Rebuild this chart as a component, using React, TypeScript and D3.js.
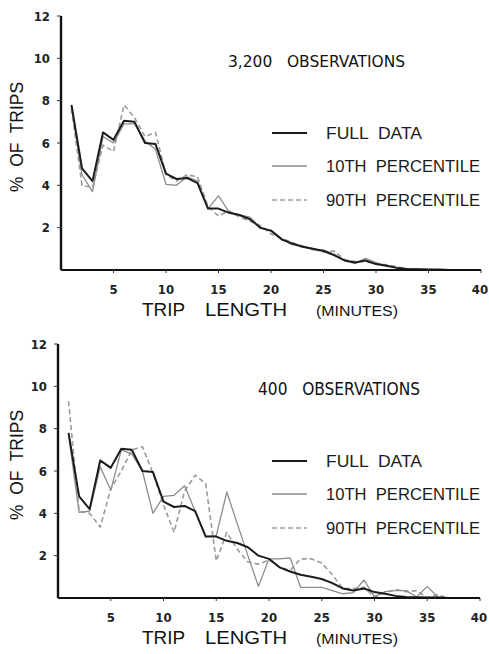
import React from "react";
import * as d3 from "d3";

// minutes along the x axis
const MINUTES = [1, 2, 3, 4, 5, 6, 7, 8, 9, 10, 11, 12, 13, 14, 15, 16, 17, 18, 19, 20, 21, 22, 23, 24, 25, 26, 27, 28, 29, 30, 31, 32, 33, 34, 35, 36, 37];

// % of trips, full data (same curve in both panels)
const FULL_DATA = [7.8, 4.8, 4.2, 6.5, 6.15, 7.05, 7.0, 6.0, 5.95, 4.55, 4.3, 4.35, 4.1, 2.9, 2.9, 2.7, 2.6, 2.4, 2.0, 1.85, 1.45, 1.25, 1.1, 1.0, 0.9, 0.7, 0.45, 0.35, 0.45, 0.28, 0.2, 0.1, 0.05, 0.03, 0.02, 0.02, 0.0];

// 3,200 observations
const TOP_P10 = [7.7, 4.5, 3.7, 6.3, 6.0, 6.9, 6.9, 6.1, 5.7, 4.05, 4.0, 4.4, 4.2, 2.9, 3.5, 2.75, 2.6, 2.5, 1.95, 1.9, 1.5, 1.2, 1.15, 0.95, 0.95, 0.75, 0.45, 0.3, 0.55, 0.35, 0.2, 0.1, 0.05, 0.03, 0.02, 0.0, 0.0];
const TOP_P90 = [7.6, 4.0, 3.9, 5.9, 5.6, 7.8, 7.2, 6.3, 6.5, 4.5, 4.2, 4.5, 4.4, 3.0, 2.55, 2.8, 2.5, 2.3, 2.1, 1.7, 1.5, 1.3, 1.1, 1.0, 0.85, 0.9, 0.5, 0.4, 0.4, 0.3, 0.25, 0.15, 0.05, 0.05, 0.02, 0.0, 0.0];

// 400 observations
const BOTTOM_P10 = [7.7, 4.05, 4.1, 6.2, 5.1, 7.0, 6.8, 6.0, 4.0, 4.8, 4.85, 5.3, 4.1, 2.9, 2.95, 5.0, 3.5, 2.0, 0.55, 1.85, 1.85, 1.9, 0.5, 0.5, 0.5, 0.35, 0.2, 0.25, 0.85, 0.05, 0.3, 0.35, 0.35, 0.05, 0.55, 0.05, 0.0];
const BOTTOM_P90 = [9.3, 4.1, 4.0, 3.35, 5.15, 6.0, 7.0, 7.15, 5.9, 4.4, 3.1, 5.05, 5.8, 5.4, 1.75, 3.1, 2.3, 1.7, 1.6, 1.8, 1.45, 1.3, 1.85, 1.85, 1.65, 1.1, 0.45, 0.45, 0.5, 0.05, 0.25, 0.4, 0.3, 0.35, 0.0, 0.15, 0.0];

const X_TICKS = [5, 10, 15, 20, 25, 30, 35, 40];
const Y_TICKS = [2, 4, 6, 8, 10, 12];
const LEGEND_LABELS = ["FULL  DATA", "10TH  PERCENTILE", "90TH  PERCENTILE"];

const FONT = "'Liberation Sans', Arial, sans-serif";
const NARROW = "'Liberation Sans Narrow', 'DejaVu Sans Condensed', sans-serif";

const STYLES = [
  { stroke: "#1c1c1c", width: 2, dash: undefined },
  { stroke: "#8c8c8c", width: 1.3, dash: undefined },
  { stroke: "#9c9c9c", width: 1.6, dash: "5,3" },
];

type PanelProps = {
  dy: number;
  x0: number;
  x1: number;
  title: string;
  titleX: number;
  titleW: number;
  titleSize: number;
  series: number[][];
};

const pre = { whiteSpace: "pre" as const };

const Panel = ({ dy, x0, x1, title, titleX, titleW, titleSize, series }: PanelProps) => {
  const x = d3.scaleLinear().domain([0, 40]).range([x0, x1]);
  const y = d3.scaleLinear().domain([0, 12]).range([dy + 270, dy + 16]);
  const line = d3
    .line<number>()
    .x((_, i) => x(MINUTES[i]))
    .y((d) => y(d));

  const legendRows = [dy + 139, dy + 172, dy + 206];

  return (
    <g>
      {/* data lines, lightest first so full data sits on top */}
      {[2, 1, 0].map((k) => (
        <path
          key={k}
          d={line(series[k]) || ""}
          fill="none"
          stroke={STYLES[k].stroke}
          strokeWidth={STYLES[k].width}
          strokeDasharray={STYLES[k].dash}
          strokeLinejoin="round"
        />
      ))}

      {/* axes */}
      <line x1={x(0)} x2={x(0)} y1={y(0)} y2={y(12)} stroke="#111" strokeWidth={2.4} />
      <line x1={x(0)} x2={x(40)} y1={y(0)} y2={y(0)} stroke="#111" strokeWidth={2.2} />

      {Y_TICKS.map((t) => (
        <g key={t}>
          <line x1={x(0) - 4} x2={x(0)} y1={y(t)} y2={y(t)} stroke="#333" strokeWidth={1} />
          <text
            x={x(0) - 11}
            y={y(t)}
            dy="0.35em"
            textAnchor="end"
            fontFamily={NARROW}
            fontWeight="bold"
            fontSize={13}
            fill="#222"
          >
            {t}
          </text>
        </g>
      ))}

      {X_TICKS.map((t) => (
        <g key={t}>
          <line x1={x(t)} x2={x(t)} y1={y(0)} y2={y(0) + 3} stroke="#333" strokeWidth={1} />
          <text
            x={t === 40 ? x(t) - 1 : x(t)}
            y={y(0) + 24}
            textAnchor="middle"
            fontFamily={NARROW}
            fontWeight="bold"
            fontSize={13}
            fill="#222"
          >
            {t}
          </text>
        </g>
      ))}

      {/* axis titles */}
      <text x={142} y={dy + 316} fontFamily={FONT} fontSize={19} fill="#111" textLength={43} lengthAdjust="spacingAndGlyphs">
        TRIP
      </text>
      <text x={205} y={dy + 316} fontFamily={FONT} fontSize={19} fill="#111" textLength={82} lengthAdjust="spacingAndGlyphs">
        LENGTH
      </text>
      <text x={316} y={dy + 316} fontFamily={FONT} fontSize={14} fill="#111" textLength={82} lengthAdjust="spacingAndGlyphs">
        (MINUTES)
      </text>
      <text
        transform={`translate(23,${dy + 137}) rotate(-90)`}
        textAnchor="middle"
        fontFamily={FONT}
        fontSize={18}
        fill="#111"
        textLength={110}
        lengthAdjust="spacingAndGlyphs"
        style={pre}
      >
        %  OF  TRIPS
      </text>

      {/* panel title */}
      <text
        x={titleX}
        y={dy + 67}
        fontFamily={NARROW}
        fontSize={titleSize}
        fill="#111"
        textLength={titleW}
        lengthAdjust="spacingAndGlyphs"
        style={pre}
      >
        {title}
      </text>

      {/* legend */}
      {LEGEND_LABELS.map((lab, k) => (
        <g key={lab}>
          <line
            x1={272}
            x2={307}
            y1={legendRows[k] - 6}
            y2={legendRows[k] - 6}
            stroke={STYLES[k].stroke}
            strokeWidth={STYLES[k].width}
            strokeDasharray={STYLES[k].dash}
          />
          <text
            x={326}
            y={legendRows[k]}
            fontFamily={FONT}
            fontSize={16}
            fill="#1a1a1a"
            textLength={k === 0 ? 96 : 154}
            lengthAdjust="spacingAndGlyphs"
            style={pre}
          >
            {lab}
          </text>
        </g>
      ))}
    </g>
  );
};

export default function App() {
  return (
    <div style={{ position: "absolute", left: 0, top: 0 }}>
      <svg width={489} height={654} style={{ display: "block", background: "#fff" }}>
        <Panel
          dy={0}
          x0={61}
          x1={481}
          title="3,200   OBSERVATIONS"
          titleX={228}
          titleW={177}
          titleSize={16}
          series={[FULL_DATA, TOP_P10, TOP_P90]}
        />
        <Panel
          dy={328}
          x0={58}
          x1={480}
          title="400   OBSERVATIONS"
          titleX={258}
          titleW={162}
          titleSize={17}
          series={[FULL_DATA, BOTTOM_P10, BOTTOM_P90]}
        />
      </svg>
    </div>
  );
}
